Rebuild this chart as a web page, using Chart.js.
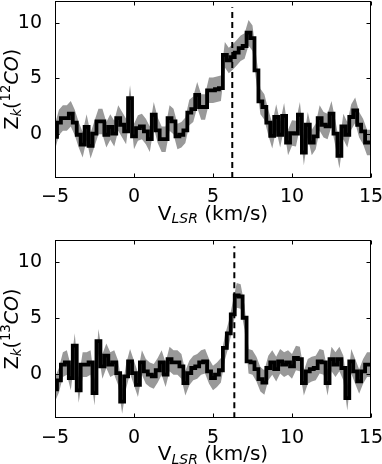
<!DOCTYPE html>
<html>
<head>
<meta charset="utf-8">
<script src="https://cdn.jsdelivr.net/npm/chart.js@4.4.0/dist/chart.umd.min.js"></script>
<style>
html, body { margin: 0; padding: 0; background: #fff; }
#wrap { position: relative; width: 382px; height: 464px; overflow: hidden; }
.panel { position: absolute; left: 0; width: 382px; height: 232px; }
</style>
</head>
<body>
<div id="wrap">
  <div class="panel" style="top:0px"><canvas id="chart12" width="382" height="232"></canvas></div>
  <div class="panel" style="top:232px"><canvas id="chart13" width="382" height="232"></canvas></div>
</div>
<script>
// channel velocities (km/s)
const velocity = [
  -5, -4.75, -4.5, -4.25, -4, -3.75, -3.5, -3.25, -3, -2.75,
  -2.5, -2.25, -2, -1.75, -1.5, -1.25, -1, -0.75, -0.5, -0.25,
  0, 0.25, 0.5, 0.75, 1, 1.25, 1.5, 1.75, 2, 2.25,
  2.5, 2.75, 3, 3.25, 3.5, 3.75, 4, 4.25, 4.5, 4.75,
  5, 5.25, 5.5, 5.75, 6, 6.25, 6.5, 6.75, 7, 7.25,
  7.5, 7.75, 8, 8.25, 8.5, 8.75, 9, 9.25, 9.5, 9.75,
  10, 10.25, 10.5, 10.75, 11, 11.25, 11.5, 11.75, 12, 12.25,
  12.5, 12.75, 13, 13.25, 13.5, 13.75, 14, 14.25, 14.5, 14.75,
  15
];

// Z_k for 12CO
const z12co = [
  -0.3, 1.0, 1.4, 1.4, 1.8, 1.0, -0.1, -1.0, 0.6, -1.1,
  0.0, 1.1, 1.1, -0.1, 0.6, 0.0, 1.4, 0.8, 0.2, 3.2,
  -0.25, 0.5, 0.65, 0.2, -0.5, 1.7, 0.3, -0.5, -0.5, 1.4,
  1.1, -0.25, -0.1, 0.3, 1.9, 2.2, 3.5, 2.4, 2.4, 3.9,
  3.9, 4.0, 4.1, 7.1, 6.6, 6.9, 7.3, 7.7, 7.9, 9.1,
  8.6, 5.7, 2.9, 2.4, 1.0, -0.2, 1.5, -0.1, 1.6, -0.8,
  0.05, 0.0, 1.7, -1.7, 0.8, -0.8, -0.25, 1.4, 0.8, 0.65,
  1.8, 0.0, -2.0, 0.65, -0.1, 1.5, 2.1, 0.8, 0.2, -0.8,
  -0.8
];

// Z_k for 13CO
const z13co = [
  -1.4, -0.6, 0.8, 1.0, -0.4, 2.5, -1.5, 0.8, 0.8, 1.0,
  -1.75, 2.9, 0.65, 1.6, 0.8, 1.0, 0.05, -2.5, -0.25, 1.1,
  0.05, -1.0, 1.0, 0.2, -0.1, -0.25, 0.3, 1.0, -0.1, 1.3,
  1.0, 1.0, 0.65, -0.85, 0.05, 0.5, 0.65, 1.0, 1.1, 0.2,
  -0.4, -0.1, 0.3, 2.3, 3.6, 5.3, 7.0, 6.9, 5.0, 1.1,
  1.0, 0.4, -0.5, -0.8, 0.5, 1.0, 0.4, 1.1, 0.8, 1.0,
  0.65, 1.4, 1.3, -0.85, 0.2, 0.4, 0.5, 1.1, 1.0, -0.85,
  1.3, 0.8, 1.3, 0.5, -2.2, 1.1, 0.2, -0.7, 0.2, 0.8,
  0.8
];

// 1-sigma width of the grey band
const sigma12 = 1.15;
const sigma13 = 1.1;

// systemic velocity marks
const vsys12 = 6.22;
const vsys13 = 6.35;

const x_ticks = [-5, 0, 5, 10, 15];
const y_ticks = [0, 5, 10];
const y_range = [-4, 12];
const vline_top = 11.4;

const FONT = '"DejaVu Sans"';

function rich_font(p, size) {
  const s = (p.sub || p.sup) ? size * 0.7 : size;
  return (p.it ? 'italic ' : '') + s + 'px ' + FONT;
}
function measure_rich(ctx, parts, size) {
  let w = 0;
  parts.forEach(p => { ctx.font = rich_font(p, size); w += ctx.measureText(p.t).width; });
  return w;
}
function draw_rich(ctx, parts, size, x0) {
  let x = x0;
  parts.forEach(p => {
    ctx.font = rich_font(p, size);
    let dy = 0;
    if (p.sub) dy = 0.16 * size;
    if (p.sup) dy = -0.42 * size;
    ctx.fillText(p.t, x, dy);
    x += ctx.measureText(p.t).width;
  });
}

const frame_plugin = {
  id: 'frame',
  afterDraw(chart, args, opts) {
    const ctx = chart.ctx;
    const a = chart.chartArea;
    const xs = chart.scales.x, ys = chart.scales.y;
    const L = Math.round(a.left) + 0.5, R = Math.round(a.right) - 0.5;
    const T = Math.round(a.top) + 0.5, B = Math.round(a.bottom) - 0.5;
    ctx.save();
    ctx.strokeStyle = '#000';
    ctx.lineWidth = 1;
    ctx.strokeRect(L, T, R - L, B - T);
    ctx.beginPath();
    x_ticks.forEach(v => {
      const px = Math.round(xs.getPixelForValue(v)) + 0.5;
      ctx.moveTo(px, B); ctx.lineTo(px, B - 4);
      ctx.moveTo(px, T); ctx.lineTo(px, T + 4);
    });
    y_ticks.forEach(v => {
      const py = Math.round(ys.getPixelForValue(v)) + 0.5;
      ctx.moveTo(L, py); ctx.lineTo(L + 4, py);
      ctx.moveTo(R, py); ctx.lineTo(R - 4, py);
    });
    ctx.stroke();

    ctx.fillStyle = '#000';
    ctx.textBaseline = 'alphabetic';
    ctx.textAlign = 'left';
    // x title
    const xparts = [{t: 'V'}, {t: 'LSR', it: true, sub: true}, {t: ' (km/s)'}];
    const xw = measure_rich(ctx, xparts, 20);
    ctx.save();
    ctx.translate((a.left + a.right) / 2, a.bottom + 42);
    draw_rich(ctx, xparts, 20, -xw / 2);
    ctx.restore();
    // y title
    const yparts = [{t: 'Z'}, {t: 'k', it: true, sub: true}, {t: '('}, {t: opts.iso, sup: true}, {t: 'CO', it: true}, {t: ')'}];
    const yw = measure_rich(ctx, yparts, 19);
    ctx.save();
    ctx.translate(18, (a.top + a.bottom) / 2);
    ctx.rotate(-Math.PI / 2);
    draw_rich(ctx, yparts, 19, -yw / 2);
    ctx.restore();
    ctx.restore();
  }
};

function make_panel(canvas_id, values, sigma, vsys, iso, pad_top, x_height) {
  const upper = velocity.map((v, i) => ({x: v, y: values[i] + sigma}));
  const lower = velocity.map((v, i) => ({x: v, y: values[i] - sigma}));
  const line = velocity.map((v, i) => ({x: v, y: values[i]}));
  return new Chart(document.getElementById(canvas_id), {
    type: 'line',
    data: {
      datasets: [
        {data: upper, borderWidth: 0, borderColor: 'rgba(0,0,0,0)', pointRadius: 0, fill: false, order: 3},
        {data: lower, borderWidth: 0, borderColor: 'rgba(0,0,0,0)', pointRadius: 0, fill: '-1', backgroundColor: '#999999', order: 2},
        {data: line, borderWidth: 3.8, borderColor: '#000', pointRadius: 0, stepped: 'middle', fill: false, order: 1},
        {data: [{x: vsys, y: y_range[0]}, {x: vsys, y: vline_top}], borderWidth: 2, borderColor: '#000', borderDash: [6, 4], pointRadius: 0, fill: false, order: 0}
      ]
    },
    options: {
      responsive: false,
      animation: false,
      events: [],
      layout: {padding: {left: 0, right: 11, top: pad_top, bottom: 0}},
      plugins: {legend: {display: false}, tooltip: {enabled: false}, frame: {iso: iso}},
      scales: {
        x: {
          type: 'linear', min: -5, max: 15,
          grid: {display: false}, border: {display: false},
          afterBuildTicks: s => { s.ticks = x_ticks.map(v => ({value: v})); },
          afterFit: s => { s.height = x_height; s.paddingLeft = 0; s.paddingRight = 0; },
          ticks: {
            padding: 0, color: '#000', font: {family: FONT, size: 19}, maxRotation: 0,
            callback: v => String(v).replace('-', '\u2212')
          }
        },
        y: {
          type: 'linear', min: y_range[0], max: y_range[1],
          grid: {display: false}, border: {display: false},
          afterBuildTicks: s => { s.ticks = y_ticks.map(v => ({value: v})); },
          afterFit: s => { s.width = 55; s.paddingTop = 0; s.paddingBottom = 0; },
          ticks: {padding: 5, color: '#000', font: {family: FONT, size: 19}}
        }
      }
    },
    plugins: [frame_plugin]
  });
}

make_panel('chart12', z12co, sigma12, vsys12, '12', 0.5, 54);
make_panel('chart13', z13co, sigma13, vsys13, '13', 7.5, 45.7);
</script>
</body>
</html>
